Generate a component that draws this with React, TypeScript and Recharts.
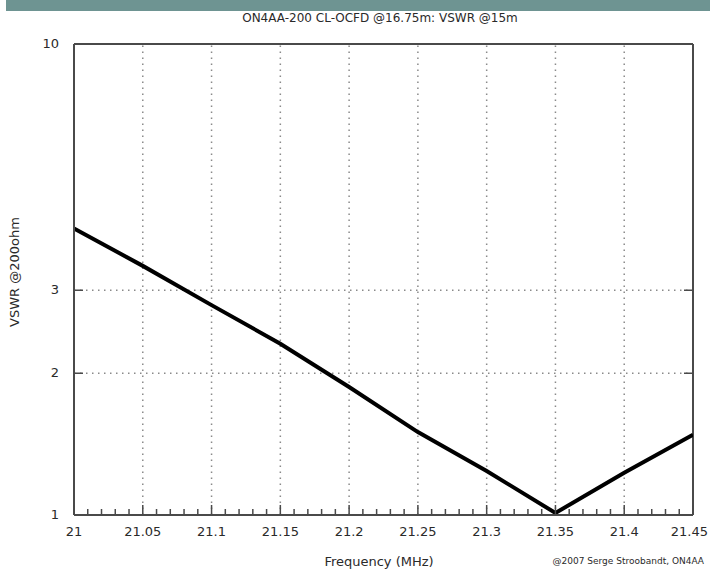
// VSWR sweep of the ON4AA-200 CL-OCFD antenna on the 15 m band
// Log Y axis, inward ticks, dotted grid, boxed plot area

import {
  LineChart,
  Line,
  XAxis,
  YAxis,
  ReferenceLine,
} from 'recharts'

// =============================================================================
// Data
// =============================================================================

const FREQUENCIES = [21, 21.05, 21.1, 21.15, 21.2, 21.25, 21.3, 21.35, 21.4, 21.45]
const VSWR_VALUES = [4.06, 3.38, 2.79, 2.31, 1.87, 1.5, 1.24, 1.01, 1.23, 1.48]

const X_MAJOR_TICKS = [21, 21.05, 21.1, 21.15, 21.2, 21.25, 21.3, 21.35, 21.4, 21.45]
const X_MAJOR_LABELS = ['21', '21.05', '21.1', '21.15', '21.2', '21.25', '21.3', '21.35', '21.4', '21.45']
const Y_TICKS = [1, 2, 3, 10]
const Y_LABELS = ['1', '2', '3', '10']
const Y_GRID = [2, 3]

const TITLE = 'ON4AA-200 CL-OCFD @16.75m: VSWR @15m'
const X_TITLE = 'Frequency (MHz)'
const Y_TITLE = 'VSWR @200ohm'
const CREDIT = '@2007 Serge Stroobandt, ON4AA'

// =============================================================================
// Layout constants
// =============================================================================

const WIDTH = 710
const HEIGHT = 571
const MARGIN = { top: 44, right: 17, left: 14, bottom: 0 }
const Y_AXIS_WIDTH = 60
const X_AXIS_HEIGHT = 56
const PLOT_LEFT = MARGIN.left + Y_AXIS_WIDTH
const PLOT_RIGHT = WIDTH - MARGIN.right
const PLOT_BOTTOM = HEIGHT - X_AXIS_HEIGHT

const TEXT = '#2a2a2a'
const FRAME = '#4a4a4a'
const GRID = '#8a8a8a'
const FONT = '"DejaVu Sans", Verdana, sans-serif'

// minor ticks every 0.01 MHz between the labelled ones
const X_MINOR_TICKS = Array.from({ length: 46 }, (_, i) => +(21 + i * 0.01).toFixed(2))

const data = FREQUENCIES.map((f, i) => ({ freq: f, vswr: VSWR_VALUES[i] }))

// =============================================================================
// Tick renderers
// =============================================================================

function XTick({ x, payload }: { x: number; payload: { value: number } }) {
  const idx = X_MAJOR_TICKS.findIndex((t) => Math.abs(t - payload.value) < 1e-6)
  const major = idx >= 0
  // last label sits against the window edge, nudge it in
  const isLast = idx === X_MAJOR_TICKS.length - 1
  return (
    <g>
      <path
        d={`M${x},${PLOT_BOTTOM}V${PLOT_BOTTOM - (major ? 10 : 6)}`}
        stroke={FRAME}
        strokeWidth={1.5}
        fill="none"
      />
      {major && (
        <text
          x={isLast ? WIDTH - 2 : x}
          y={PLOT_BOTTOM + 21}
          textAnchor={isLast ? 'end' : 'middle'}
          fill={TEXT}
          fontSize={13}
          fontFamily={FONT}
        >
          {X_MAJOR_LABELS[idx]}
        </text>
      )}
    </g>
  )
}

function YTick({ y, payload }: { y: number; payload: { value: number } }) {
  const idx = Y_TICKS.indexOf(payload.value)
  const inner = payload.value !== 1 && payload.value !== 10
  return (
    <g>
      {inner && (
        <path
          d={`M${PLOT_LEFT},${y}H${PLOT_LEFT + 9}M${PLOT_RIGHT - 9},${y}H${PLOT_RIGHT}`}
          stroke={FRAME}
          strokeWidth={1.5}
          fill="none"
        />
      )}
      <text
        x={PLOT_LEFT - 15}
        y={y}
        dy={4}
        textAnchor="end"
        fill={TEXT}
        fontSize={13}
        fontFamily={FONT}
      >
        {Y_LABELS[idx]}
      </text>
    </g>
  )
}

// =============================================================================
// Main Component
// =============================================================================

export default function App() {
  return (
    <div
      style={{
        position: 'absolute',
        left: 0,
        top: 0,
        width: WIDTH,
        height: HEIGHT,
        background: '#fff',
        fontFamily: FONT,
        overflow: 'hidden',
      }}
    >
      {/* slide header band */}
      <div
        style={{
          position: 'absolute',
          left: 6,
          top: 0,
          width: WIDTH - 6,
          height: 11,
          background: '#6e9492',
        }}
      />
      <div
        style={{
          position: 'absolute',
          left: 0,
          top: 11,
          width: WIDTH,
          textAlign: 'center',
          paddingLeft: 50,
          boxSizing: 'border-box',
          fontSize: 12,
          color: TEXT,
          lineHeight: '14px',
        }}
      >
        {TITLE}
      </div>

      <LineChart width={WIDTH} height={HEIGHT} data={data} margin={MARGIN}>
        <XAxis
          dataKey="freq"
          type="number"
          domain={[21, 21.45]}
          ticks={X_MINOR_TICKS}
          interval={0}
          allowDataOverflow
          height={X_AXIS_HEIGHT}
          tickLine={false}
          axisLine={{ stroke: FRAME, strokeWidth: 2 }}
          tick={(p: any) => <XTick {...p} />}
        />
        <YAxis
          type="number"
          scale="log"
          domain={[1, 10]}
          ticks={Y_TICKS}
          interval={0}
          allowDataOverflow
          width={Y_AXIS_WIDTH}
          tickLine={false}
          axisLine={{ stroke: FRAME, strokeWidth: 2 }}
          tick={(p: any) => <YTick {...p} />}
        />
        {X_MAJOR_TICKS.slice(1, -1).map((f) => (
          <ReferenceLine key={`vx-${f}`} x={f} stroke={GRID} strokeWidth={1.5} strokeDasharray="1.5 4.5" />
        ))}
        {Y_GRID.map((v) => (
          <ReferenceLine key={`hy-${v}`} y={v} stroke={GRID} strokeWidth={1.5} strokeDasharray="1.5 4.5" />
        ))}
        <ReferenceLine y={10} stroke={FRAME} strokeWidth={2} />
        <ReferenceLine x={21.45} stroke={FRAME} strokeWidth={2} />
        <Line
          type="linear"
          dataKey="vswr"
          stroke="#000"
          strokeWidth={4}
          dot={false}
          isAnimationActive={false}
        />
      </LineChart>

      {/* axis titles */}
      <div
        style={{
          position: 'absolute',
          left: 14,
          top: 272,
          transform: 'translate(-50%, -50%) rotate(-90deg)',
          whiteSpace: 'nowrap',
          fontSize: 13,
          color: TEXT,
        }}
      >
        {Y_TITLE}
      </div>
      <div
        style={{
          position: 'absolute',
          left: 379,
          top: 561,
          transform: 'translate(-50%, -50%)',
          whiteSpace: 'nowrap',
          fontSize: 13,
          color: TEXT,
        }}
      >
        {X_TITLE}
      </div>
      <div
        style={{
          position: 'absolute',
          right: 6,
          top: 561,
          transform: 'translateY(-50%)',
          whiteSpace: 'nowrap',
          fontSize: 9,
          color: TEXT,
        }}
      >
        {CREDIT}
      </div>
    </div>
  )
}
